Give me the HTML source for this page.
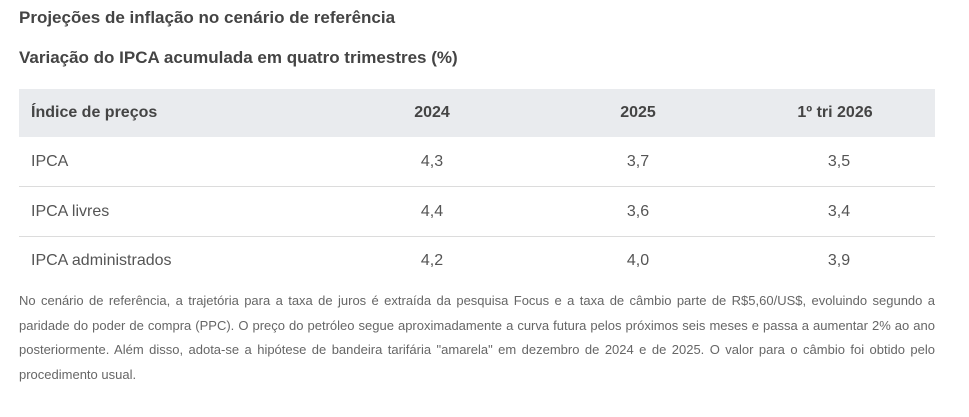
<!DOCTYPE html>
<html><head><meta charset="utf-8"><style>
body{margin:0;background:#fff;width:969px;height:417px;overflow:hidden;font-family:"Liberation Sans","DejaVu Sans",sans-serif;color:#555;position:relative}
.t{position:absolute;left:19px;font-weight:bold;color:#444;font-size:17px;white-space:nowrap}
.hd{position:absolute;left:19px;top:89px;width:916px;height:48px;background:#e9ebee}
.row{position:absolute;left:19px;width:916px;border-bottom:1px solid #dcdcdc}
.c{position:absolute;font-size:16px;white-space:nowrap;transform:translateX(-50%)}
.l{position:absolute;left:12px;font-size:16px;white-space:nowrap}
.b{font-weight:bold;color:#444}
.note{position:absolute;left:19px;top:289px;width:916px;font-size:13px;line-height:24.5px;text-align:justify;color:#666}
</style></head><body>
<div class="t" style="top:8px">Projeções de inflação no cenário de referência</div>
<div class="t" style="top:48px">Variação do IPCA acumulada em quatro trimestres (%)</div>
<div class="hd">
 <div class="l b" style="top:15px">Índice de preços</div>
 <div class="c b" style="left:413px;top:15px">2024</div>
 <div class="c b" style="left:619px;top:15px">2025</div>
 <div class="c b" style="left:816px;top:15px">1º tri 2026</div>
</div>
<div class="row" style="top:137px;height:49px">
 <div class="l" style="top:16px">IPCA</div>
 <div class="c" style="left:413px;top:16px">4,3</div><div class="c" style="left:619px;top:16px">3,7</div><div class="c" style="left:820px;top:16px">3,5</div>
</div>
<div class="row" style="top:187px;height:49px">
 <div class="l" style="top:16px">IPCA livres</div>
 <div class="c" style="left:413px;top:16px">4,4</div><div class="c" style="left:619px;top:16px">3,6</div><div class="c" style="left:820px;top:16px">3,4</div>
</div>
<div class="row" style="top:237px;height:49px;border-bottom:none">
 <div class="l" style="top:15px">IPCA administrados</div>
 <div class="c" style="left:413px;top:15px">4,2</div><div class="c" style="left:619px;top:15px">4,0</div><div class="c" style="left:820px;top:15px">3,9</div>
</div>
<div class="note">No cenário de referência, a trajetória para a taxa de juros é extraída da pesquisa Focus e a taxa de câmbio parte de R$5,60/US$, evoluindo segundo a paridade do poder de compra (PPC). O preço do petróleo segue aproximadamente a curva futura pelos próximos seis meses e passa a aumentar 2% ao ano posteriormente. Além disso, adota-se a hipótese de bandeira tarifária "amarela" em dezembro de 2024 e de 2025. O valor para o câmbio foi obtido pelo procedimento usual.</div>
</body></html>
